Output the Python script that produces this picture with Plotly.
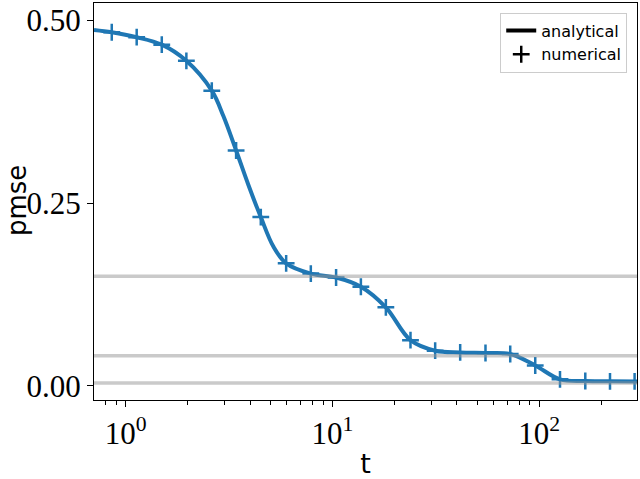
import plotly.graph_objects as go

# numerical samples
t_numerical = [0.856, 1.13, 1.494, 1.965, 2.608, 3.419, 4.501, 5.97, 7.857, 10.41,
               13.72, 18.12, 23.84, 31.38, 41.46, 54.96, 72.39, 95.64, 126.0, 167.0,
               219.9, 289.2]
pmse_numerical = [0.4836, 0.4768, 0.4666, 0.4445, 0.4037, 0.3219, 0.2309, 0.1676,
                  0.1536, 0.1482, 0.1356, 0.1074, 0.0625, 0.0481, 0.0458, 0.0450,
                  0.0436, 0.0279, 0.0090, 0.0067, 0.0063, 0.0063]

# analytical curve
t_analytical = [0.7024, 0.856, 1.13, 1.494, 1.965, 2.608, 2.967, 3.419, 3.921, 4.501,
                5.178, 5.97, 7.857, 10.41, 13.72, 18.12, 23.84, 31.38, 41.46, 54.96,
                72.39, 95.64, 126.0, 167.0, 219.9, 297.0]
pmse_analytical = [0.4868, 0.4836, 0.4768, 0.4666, 0.4445, 0.4037, 0.369, 0.3219,
                   0.2748, 0.2309, 0.1905, 0.1676, 0.1536, 0.1482, 0.1356, 0.1074,
                   0.0625, 0.0481, 0.0458, 0.0450, 0.0436, 0.0279, 0.0090, 0.0067,
                   0.0063, 0.0060]

# horizontal reference levels
levels = [0.150, 0.0413, 0.004]

x_tickvals = [1, 10, 100]
x_ticktext = ["10<sup>0</sup>", "10<sup>1</sup>", "10<sup>2</sup>"]
x_minor = [0.8, 0.9, 2, 3, 4, 5, 6, 7, 8, 9, 20, 30, 40, 50, 60, 70, 80, 90, 200]
y_tickvals = [0.0, 0.25, 0.5]
y_ticktext = ["0.00", "0.25", "0.50"]

BLUE = "#1f77b4"
fig = go.Figure()

fig.add_trace(go.Scatter(x=t_analytical, y=pmse_analytical, mode="lines",
                         line=dict(color=BLUE, width=4, shape="spline", smoothing=1.0),
                         showlegend=False))
fig.add_trace(go.Scatter(x=t_numerical, y=pmse_numerical, mode="markers",
                         marker=dict(symbol="cross-thin", size=12,
                                     line=dict(color=BLUE, width=2.5)),
                         showlegend=False))
# legend handles (black)
fig.add_trace(go.Scatter(x=[None], y=[None], mode="lines", name="analytical",
                         line=dict(color="black", width=4)))
fig.add_trace(go.Scatter(x=[None], y=[None], mode="markers", name="numerical",
                         marker=dict(symbol="cross-thin", size=12,
                                     line=dict(color="black", width=2.5))))

for lv in levels:
    fig.add_shape(type="line", xref="paper", x0=0, x1=1, yref="y", y0=lv, y1=lv,
                  line=dict(color="rgba(150,150,150,0.5)", width=3.5), layer="above")

fig.add_annotation(text="pmse", xref="paper", yref="paper", x=-0.1418, y=0.501,
                   xanchor="center", yanchor="middle", textangle=-90, showarrow=False,
                   font=dict(family="DejaVu Sans", size=26, color="black"))

fig.update_layout(
    width=640, height=479,
    margin=dict(l=94, r=3, t=2, b=74),
    plot_bgcolor="white", paper_bgcolor="white",
    legend=dict(x=0.982, y=0.976, xanchor="right", yanchor="top",
                bgcolor="rgba(255,255,255,0.8)", bordercolor="#cccccc", borderwidth=1,
                font=dict(family="DejaVu Sans", size=16, color="black"),
                itemwidth=30, tracegroupgap=0),
    xaxis=dict(type="log", range=[-0.1534, 2.4728],
               tickmode="array", tickvals=x_tickvals, ticktext=x_ticktext,
               ticks="outside", ticklen=6, tickwidth=1, tickcolor="black",
               minor=dict(tickmode="array", tickvals=x_minor, ticks="outside",
                          ticklen=3.5, tickwidth=0.8, tickcolor="black", showgrid=False),
               showline=True, linecolor="black", linewidth=1, mirror=True,
               showgrid=False, zeroline=False,
               tickfont=dict(family="Liberation Serif", size=31, color="black"),
               title=dict(text="t", font=dict(family="DejaVu Sans", size=27, color="black"),
                          standoff=7)),
    yaxis=dict(range=[-0.0193, 0.5236],
               tickmode="array", tickvals=y_tickvals, ticktext=y_ticktext,
               ticks="outside", ticklen=6, tickwidth=1, tickcolor="black",
               showline=True, linecolor="black", linewidth=1, mirror=True,
               showgrid=False, zeroline=False,
               tickfont=dict(family="Liberation Serif", size=31, color="black")),
)

fig.write_html("out.html", config={"displayModeBar": False},
               post_script="document.body.style.margin='0';")
